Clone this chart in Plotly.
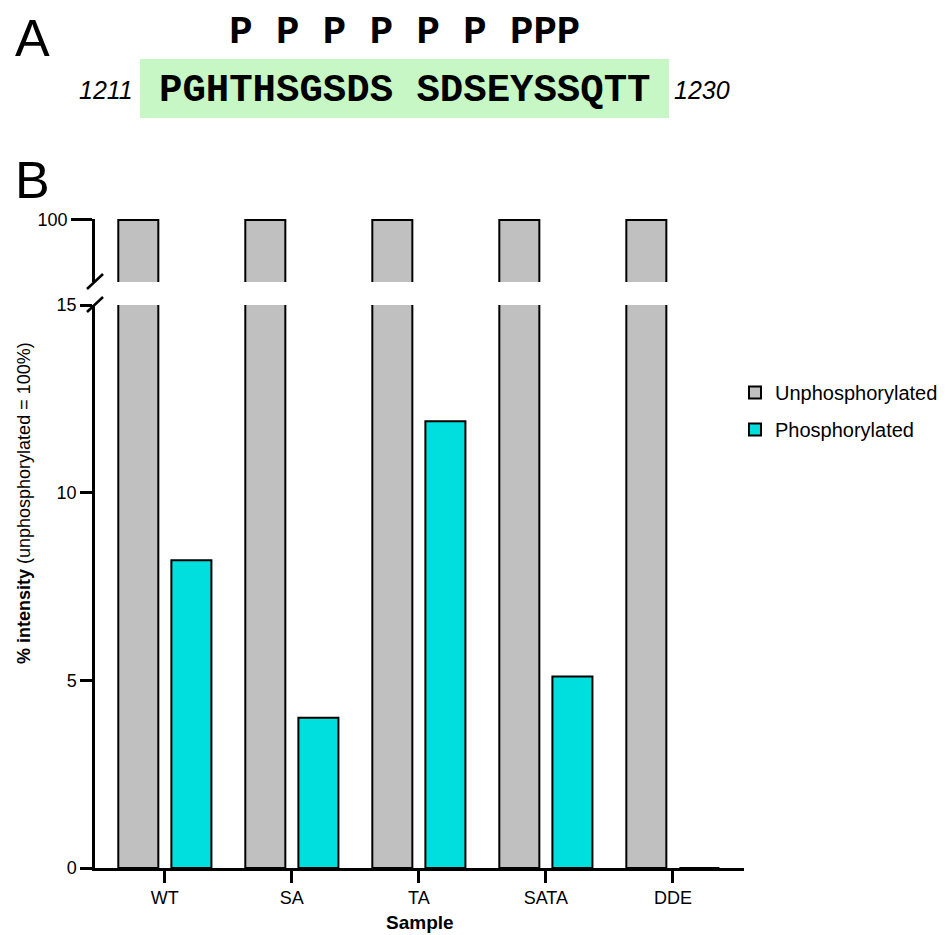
import plotly.graph_objects as go

# ---------------- data ----------------
samples = ["WT", "SA", "TA", "SATA", "DDE"]
unphosphorylated = [100, 100, 100, 100, 100]
phosphorylated = [8.2, 4.0, 11.9, 5.1, 0]

lower_ticks = [0, 5, 10, 15]
upper_ticks = [100]

sequence = "PGHTHSGSDS SDSEYSSQTT"
phospho_sites = [3, 5, 7, 9, 11, 13, 15, 16, 17]   # indices in sequence
seq_start, seq_end = "1211", "1230"

# ---------------- geometry helpers (pixel -> paper) ----------------
W, H = 950, 935
OFF = 8  # page body margin
def px(x): return (x - OFF) / W
def py(y): return 1 - (y - OFF) / H

GRAY = "#c0c0c0"
CYAN = "#00dede"
FONT = "Liberation Sans, Arial, Helvetica, sans-serif"
MONO = "Nimbus Mono PS, Nimbus Mono L, Liberation Mono, Courier New, monospace"

fig = go.Figure()

bar_line = dict(color="black", width=2)
for yax, show in (("y", True), ("y2", False)):
    fig.add_trace(go.Bar(x=samples, y=unphosphorylated, name="Unphosphorylated",
                         marker=dict(color=GRAY, line=bar_line), yaxis=yax,
                         showlegend=show, legendgroup="u"))
    fig.add_trace(go.Bar(x=samples, y=phosphorylated, name="Phosphorylated",
                         marker=dict(color=CYAN, line=bar_line), yaxis=yax,
                         showlegend=show, legendgroup="p"))

axis_common = dict(showline=True, linecolor="black", linewidth=2.5,
                   ticks="outside", tickwidth=2.5, tickcolor="black",
                   showgrid=False, zeroline=False, automargin=False,
                   tickfont=dict(family=FONT, size=18, color="black"))

fig.update_layout(
    template="none",
    width=W, height=H, autosize=False,
    margin=dict(l=0, r=0, t=0, b=0, pad=0, autoexpand=False),
    paper_bgcolor="white", plot_bgcolor="white",
    barmode="group", bargap=0.164, bargroupgap=0.246,
    font=dict(family=FONT, color="black"),
    xaxis=dict(domain=[px(95), px(744)], range=[-0.55, 4.56], anchor="y",
               ticklen=12, **axis_common),
    yaxis=dict(domain=[py(868), py(305)], range=[0, 15], tickvals=lower_ticks,
               anchor="x", ticklen=12, **axis_common),
    yaxis2=dict(domain=[py(282), py(219)], range=[90, 100.16], tickvals=upper_ticks,
                anchor="x", ticklen=21, **axis_common),
    legend=dict(x=px(735), y=py(373), xanchor="left", yanchor="top",
                font=dict(family=FONT, size=20, color="black"),
                tracegroupgap=8, bgcolor="rgba(0,0,0,0)", borderwidth=0),
)

# axis-break slashes
shapes = []
for yc in (281.5, 304.5):
    shapes.append(dict(type="line", xref="paper", yref="paper",
                       x0=px(87), y0=py(yc + 7.5), x1=px(103), y1=py(yc - 7.5),
                       line=dict(color="black", width=2.5)))
# green highlight box behind sequence
shapes.append(dict(type="rect", xref="paper", yref="paper",
                   x0=px(140), x1=px(669), y0=py(118), y1=py(59),
                   fillcolor="#c6f7c4", line=dict(width=0), layer="below"))
fig.update_layout(shapes=shapes)

nb = "\u00a0"
p_row = "".join("P" if i in phospho_sites else nb for i in range(len(sequence)))
seq_text = sequence.replace(" ", nb)

annotations = [
    dict(text="A", x=px(13), y=py(38), xanchor="left", yanchor="middle",
         font=dict(family=FONT, size=52, color="black")),
    dict(text="B", x=px(13), y=py(180), xanchor="left", yanchor="middle",
         font=dict(family=FONT, size=52, color="black")),
    dict(text=f"<b>{p_row}</b>", x=px(404), y=py(33), xanchor="center", yanchor="middle",
         font=dict(family=MONO, size=39, color="black")),
    dict(text=f"<b>{seq_text}</b>", x=px(404), y=py(91), xanchor="center", yanchor="middle",
         font=dict(family=MONO, size=39, color="black")),
    dict(text=f"<i>{seq_start}</i>", x=px(135), y=py(90), xanchor="right", yanchor="middle",
         font=dict(family=FONT, size=25, color="black")),
    dict(text=f"<i>{seq_end}</i>", x=px(672), y=py(90), xanchor="left", yanchor="middle",
         font=dict(family=FONT, size=25, color="black")),
    dict(text="<b>% intensity</b> (unphosphorylated = 100%)", textangle=-90,
         x=px(24), y=py(503), xanchor="center", yanchor="middle",
         font=dict(family=FONT, size=18, color="black")),
    dict(text="<b>Sample</b>", x=px(419.5), y=py(922), xanchor="center", yanchor="middle",
         font=dict(family=FONT, size=19, color="black")),
]
for a in annotations:
    a.update(xref="paper", yref="paper", showarrow=False)
fig.update_layout(annotations=annotations)

fig.write_html("out.html")
